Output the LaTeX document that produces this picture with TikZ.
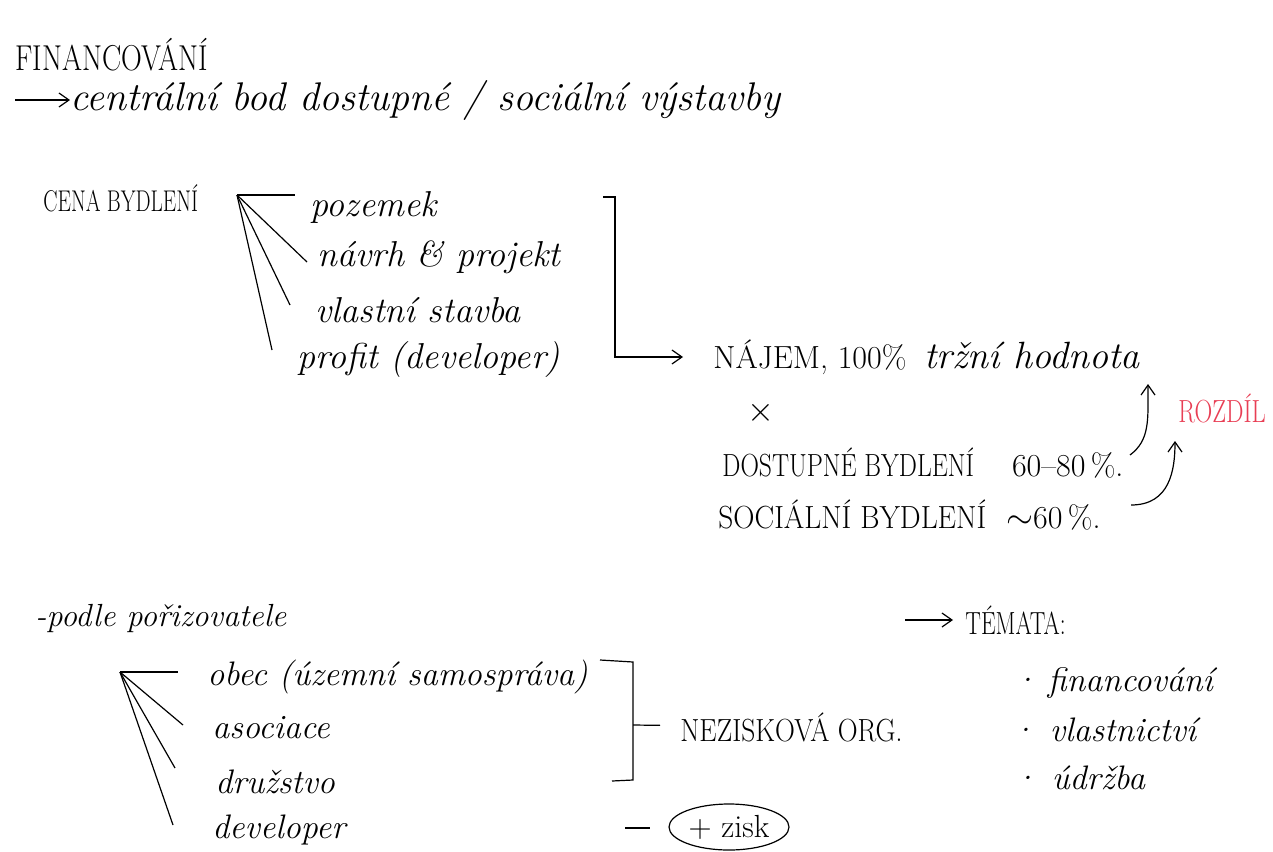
\documentclass[tikz,border=0pt]{standalone}
\usepackage{fontspec}
\usetikzlibrary{arrows.meta, shapes.geometric}
\definecolor{notered}{RGB}{232,62,84}
\newcommand{\narrowtext}[2]{\scalebox{#1}[1]{#2}}

\begin{document}
\begin{tikzpicture}[x=0.5pt, y=-0.5pt,
        caps/.style={anchor=west, inner sep=0pt, font=\fontsize{16}{18}\selectfont},
        hand/.style={anchor=west, inner sep=0pt, font=\fontsize{18}{20}\selectfont\itshape},
        pen/.style={line width=0.6pt},
        penarrow/.style={line width=0.6pt, -{Straight Barb[length=5pt, width=7pt]}}]
        \useasboundingbox (0,0) rectangle (1273,851);

        % Title
        \node[caps, font=\fontsize{18}{20}\selectfont] (title) at (15,55) {\narrowtext{0.8}{FINANCOVÁNÍ}};
        \coordinate (sub0) at (15,100);
        \node[hand, font=\fontsize{20}{22}\selectfont\itshape] (sub) at (70,100) {centrální bod dostupné / sociální výstavby};
        \draw[penarrow] (sub0) -- (sub);

        % Cena bydleni
        \node[caps, font=\fontsize{15}{17}\selectfont] (cena) at (43,198) {\narrowtext{0.71}{CENA BYDLENÍ}};
        \coordinate (fan1) at (237,195);
        \node[hand] (pozemek) at (310,207) {pozemek};
        \node[hand] (navrh) at (317,257) {návrh \& projekt};
        \node[hand] (stavba) at (315,310) {vlastní stavba};
        \node[hand] (profit) at (297,360) {profit (developer)};

        \draw[pen] (fan1) -- ([xshift=-7.5pt, yshift=6pt]pozemek.west);
        \draw[pen] (fan1) -- ([xshift=-5pt, yshift=-2.5pt]navrh.west);
        \draw[pen] (fan1) -- ([xshift=-12.5pt, yshift=2.5pt]stavba.west);
        \draw[pen] (fan1) -- ([xshift=-12.5pt, yshift=5pt]profit.west);

        % Najem
        \node[caps] (najem) at (713,357) {NÁJEM, 100\%\hspace{9pt}{\fontsize{19}{21}\selectfont\itshape tržní hodnota}};
        \coordinate (br1) at (603,197);
        \coordinate (br2) at (615,197);
        \draw[penarrow, shorten >=15pt] (br1) -- (br2) |- (najem.west);

        \node[caps, font=\fontsize{18}{20}\selectfont] (krat) at (747,413) {$\times$};
        \node[caps] (dostupne) at (722,463) {\narrowtext{0.8}{DOSTUPNÉ BYDLENÍ}\hspace{19pt}60--80\,\%.};
        \node[caps] (socialni) at (718,515) {\narrowtext{0.92}{SOCIÁLNÍ BYDLENÍ}\hspace{10pt}$\sim$60\,\%.};
        \node[caps, text=notered] (rozdil) at (1178,408) {\narrowtext{0.77}{ROZDÍL}};

        \coordinate (dos0) at (1130,455);
        \coordinate (soc0) at (1131,505);
        \coordinate (tip1) at (1148,384);
        \coordinate (tip2) at (1175,441);
        \draw[penarrow] (dos0) .. controls (1150,440) and (1148,420) .. (tip1);
        \draw[penarrow] (soc0) .. controls (1170,505) and (1175,470) .. (tip2);

        % Podle porizovatele
        \node[hand, font=\fontsize{16}{18}\selectfont\itshape] (podle) at (35,618) {-podle pořizovatele};
        \coordinate (fan2) at (120,672);
        \node[hand, font=\fontsize{17}{19}\selectfont\itshape] (obec) at (207,677) {obec (územní samospráva)};
        \node[hand, font=\fontsize{17}{19}\selectfont\itshape] (asociace) at (212,728) {asociace};
        \node[hand, font=\fontsize{17}{19}\selectfont\itshape] (druzstvo) at (215,782) {družstvo};
        \node[hand, font=\fontsize{17}{19}\selectfont\itshape] (developer) at (212,830) {developer};

        \draw[pen] (fan2) -- ([xshift=-14.5pt, yshift=2.5pt]obec.west);
        \draw[pen] (fan2) -- ([xshift=-14.5pt, yshift=1.5pt]asociace.west);
        \draw[pen] (fan2) -- ([xshift=-20pt, yshift=7pt]druzstvo.west);
        \draw[pen] (fan2) -- ([xshift=-19.5pt, yshift=2.5pt]developer.west);

        % Bracket and labels
        \coordinate (br3) at (600,660);
        \coordinate (br4) at (633,662);
        \coordinate (br5) at (633,780);
        \coordinate (br6) at (612,781);
        \coordinate (br7) at (633,725);
        \draw[pen] (br3) -- (br4) -- (br5) -- (br6);
        \node[caps] (nezisk) at (680,727) {\narrowtext{0.86}{NEZISKOVÁ ORG.}};
        \draw[pen, shorten >=10pt] (br7) -- (nezisk);

        \coordinate (dash1) at (625,828);
        \coordinate (dash2) at (650,828);
        \draw[pen] (dash1) -- (dash2);
        \node[draw, pen, ellipse, inner sep=1pt, minimum width=60pt, minimum height=23pt,
              font=\fontsize{16}{18}\selectfont] (zisk) at (729,827) {+ zisk};

        % Temata
        \coordinate (tem0) at (905,620);
        \node[caps] (temata) at (965,620) {\narrowtext{0.73}{TÉMATA:}};
        \draw[penarrow, shorten >=6pt] (tem0) -- (temata);
        \node[hand, font=\fontsize{17}{19}\selectfont\itshape] (fin) at (1012,683) {\textperiodcentered\hspace{5pt}financování};
        \node[hand, font=\fontsize{17}{19}\selectfont\itshape] (vlast) at (1010,730) {\textperiodcentered\hspace{7pt}vlastnictví};
        \node[hand, font=\fontsize{17}{19}\selectfont\itshape] (udrz) at (1012,778) {\textperiodcentered\hspace{7pt}údržba};
    \end{tikzpicture}
\end{document}
